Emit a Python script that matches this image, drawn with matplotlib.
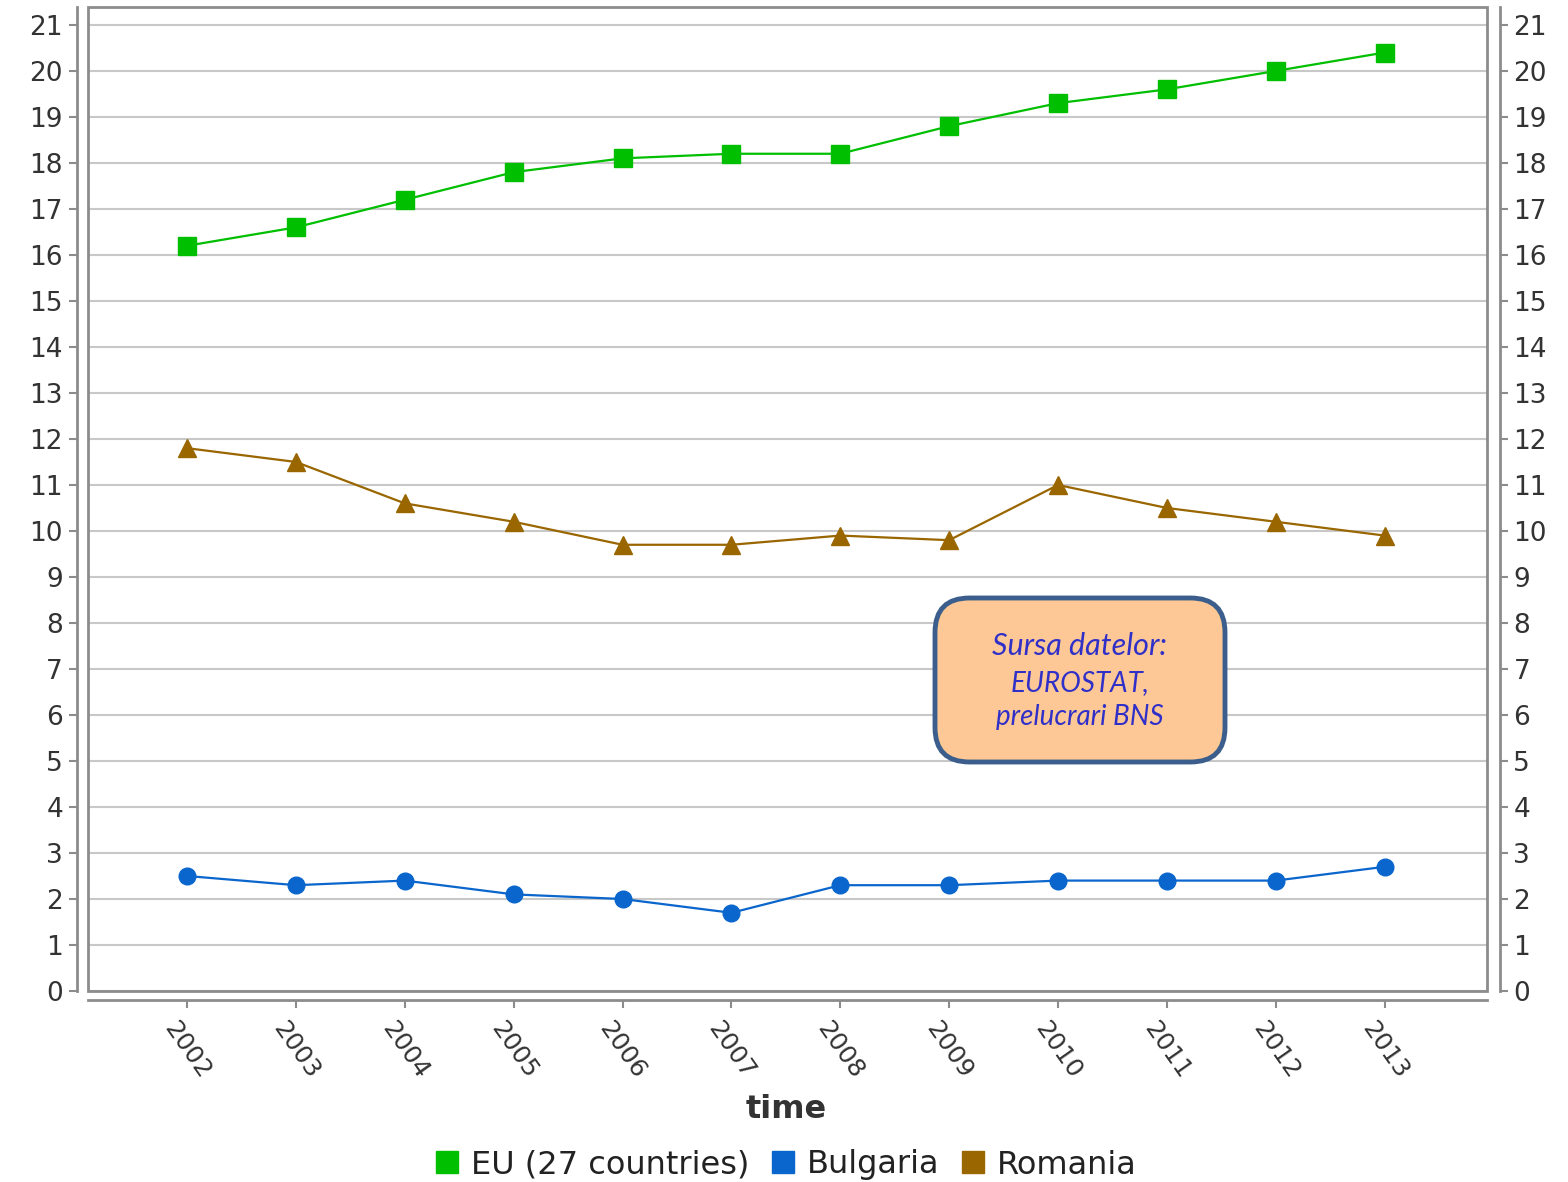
import matplotlib
matplotlib.use('Agg')
import matplotlib.pyplot as plt
from matplotlib.lines import Line2D
from matplotlib.patches import FancyBboxPatch, Rectangle

years = [2002, 2003, 2004, 2005, 2006, 2007, 2008, 2009, 2010, 2011, 2012, 2013]
eu = [16.2, 16.6, 17.2, 17.8, 18.1, 18.2, 18.2, 18.8, 19.3, 19.6, 20.0, 20.4]
bulgaria = [2.5, 2.3, 2.4, 2.1, 2.0, 1.7, 2.3, 2.3, 2.4, 2.4, 2.4, 2.7]
romania = [11.8, 11.5, 10.6, 10.2, 9.7, 9.7, 9.9, 9.8, 11.0, 10.5, 10.2, 9.9]
series_names = ['EU (27 countries)', 'Bulgaria', 'Romania']
colors = ['#00bf00', '#0a66cc', '#996600']

W, H = 1568, 1182
fig = plt.figure(figsize=(W / 100, H / 100), dpi=100)
ax = fig.add_axes([88 / W, 1 - 991 / H, (1487 - 88) / W, (991 - 7) / H])

ax.plot(years, eu, color=colors[0], lw=1.6, marker='s', ms=13)
ax.plot(years, bulgaria, color=colors[1], lw=1.6, marker='o', ms=12)
ax.plot(years, romania, color=colors[2], lw=1.6, marker='^', ms=13)

ax.set_xlim(2002 - 0.91, 2013 + 0.94)
ax.set_ylim(0, 21.39)
ax.set_yticks(range(0, 22))
ax.set_xticks(years)
ax.grid(axis='y', color='#c8c8c8', lw=1.5)
ax.set_axisbelow(True)

spine_col = '#8c8c8c'
ax.spines['top'].set_visible(False)
ax.spines['left'].set_position(('outward', 8))
ax.spines['right'].set_position(('outward', 9))
ax.spines['bottom'].set_position(('outward', 6.5))
for s in ['left', 'right', 'bottom']:
    ax.spines[s].set_color(spine_col)
    ax.spines[s].set_linewidth(2)
ax.add_patch(Rectangle((0, 0), 1, 1, transform=ax.transAxes, fill=False,
                       edgecolor=spine_col, lw=2, clip_on=False, zorder=5))

ax.tick_params(axis='y', which='both', right=True, labelright=True, length=6,
               width=1.5, color=spine_col, labelsize=19, labelcolor='#333333', pad=4)
ax.tick_params(axis='x', length=6, width=1.5, color=spine_col, labelsize=18,
               labelcolor='#333333', pad=6)
ax.set_xticklabels([str(y) for y in years], rotation=-55, ha='center', va='top')

fig.text(786 / W, 1 - 1110 / H, 'time', fontsize=23, fontweight='bold',
         color='#333333', ha='center', va='center')

# source box
box = FancyBboxPatch((935 / W, 1 - 762 / H), (1225 - 935) / W, (762 - 598) / H,
                     boxstyle='round,pad=0,rounding_size=0.022',
                     mutation_aspect=W / H, transform=fig.transFigure,
                     facecolor='#fdc896', edgecolor='#3b5e8c', lw=3.5, zorder=10)
fig.patches.append(box)
txt_kw = dict(ha='center', va='center', color='#3030c8', style='italic',
              family=['Lato', 'DejaVu Sans'], zorder=11)
fig.text(1080 / W, 1 - 646 / H, 'Sursa datelor:', fontsize=22, **txt_kw)
fig.text(1080 / W, 1 - 683 / H, 'EUROSTAT,', fontsize=20, **txt_kw)
fig.text(1080 / W, 1 - 717 / H, 'prelucrari BNS', fontsize=20, **txt_kw)

handles = [Line2D([], [], ls='none', marker='s', ms=16, color=c) for c in colors]
fig.legend(handles, series_names, loc='center', bbox_to_anchor=(786 / W, 1 - 1165 / H),
           ncol=3, frameon=False, fontsize=23, handlelength=0.7, handletextpad=0.4,
           columnspacing=0.7, labelcolor='#222222')

fig.savefig('out.png', dpi=100)
